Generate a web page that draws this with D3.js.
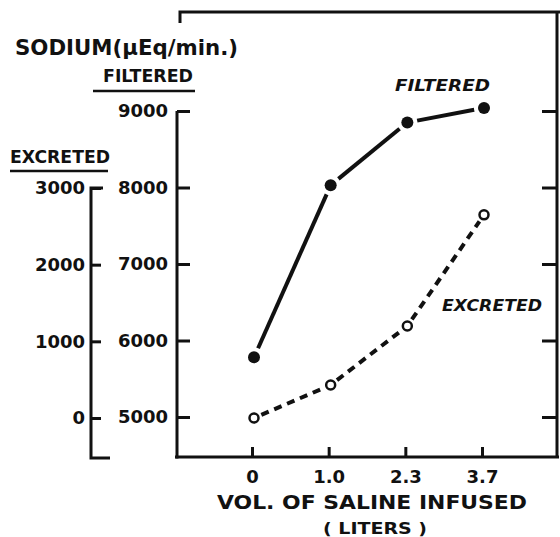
<!DOCTYPE html>
<html>
<head>
<meta charset="utf-8">
<script src="https://cdn.jsdelivr.net/npm/d3@7"></script>
<style>
  body { margin: 0; background: #fff; }
  svg { display: block; }
  text { font-family: "DejaVu Sans", sans-serif; font-weight: bold; fill: #111; }
</style>
</head>
<body>
<svg id="chart" width="560" height="537"></svg>
<script>
// data
const volumes = ["0", "1.0", "2.3", "3.7"];          // liters of saline infused
const filtered = [5780, 8030, 8850, 9040];          // filtered sodium, uEq/min
const excreted = [0, 430, 1200, 2650];              // excreted sodium, uEq/min
const filteredTicks = [5000, 6000, 7000, 8000, 9000];
const excretedTicks = [0, 1000, 2000, 3000];

const svg = d3.select("#chart");
const ink = "#111";

// layout
const plot = { left: 177, right: 557, top: 12, bottom: 457 };

const x = d3.scalePoint().domain(volumes).range([252, 482]);
const yF = d3.scaleLinear().domain([5000, 9000]).range([417, 111]);
const yE = d3.scaleLinear().domain([0, 3000]).range([418, 188]);

// helper for fixed-width lettering
function label(txt, px, py, size, width, opts = {}) {
  const t = svg.append("text").attr("x", px).attr("y", py)
      .style("font-size", size + "px").text(txt);
  if (width) t.attr("textLength", width).attr("lengthAdjust", "spacingAndGlyphs");
  if (opts.italic) t.style("font-style", "italic");
  if (opts.anchor) t.attr("text-anchor", opts.anchor);
  return t;
}

// titles
label("SODIUM(\u03BCEq/min.)", 15, 55, 22, 223);
label("FILTERED", 103, 82, 17, 90);
svg.append("line").attr("x1", 93).attr("x2", 195).attr("y1", 91).attr("y2", 91)
    .attr("stroke", ink).attr("stroke-width", 2.5);
label("EXCRETED", 10, 163, 17, 100);
svg.append("line").attr("x1", 10).attr("x2", 108).attr("y1", 171).attr("y2", 171)
    .attr("stroke", ink).attr("stroke-width", 2.5);

// frame lines
const frame = svg.append("g").attr("stroke", ink).attr("stroke-width", 3).attr("fill", "none");
frame.append("path").attr("d", `M${plot.left + 3},23 V${plot.top} H560`);
frame.append("line").attr("x1", plot.left).attr("x2", plot.left)
    .attr("y1", yF(9000)).attr("y2", plot.bottom + 1.5);
frame.append("line").attr("x1", plot.left - 2).attr("x2", plot.right + 2)
    .attr("y1", plot.bottom).attr("y2", plot.bottom);
frame.append("line").attr("x1", plot.right).attr("x2", plot.right)
    .attr("y1", plot.top).attr("y2", plot.bottom);

// filtered axis (labels left, ticks inward)
const axF = svg.append("g").attr("transform", `translate(${plot.left},0)`)
    .call(d3.axisLeft(yF).tickValues(filteredTicks).tickFormat(d3.format("d"))
        .tickSizeInner(-13).tickSizeOuter(0).tickPadding(9));
axF.select(".domain").remove();

// right-side ticks
const axR = svg.append("g").attr("transform", `translate(${plot.right},0)`)
    .call(d3.axisRight(yF).tickValues(filteredTicks).tickFormat("")
        .tickSizeInner(-15).tickSizeOuter(0));
axR.select(".domain").remove();

// excreted axis
const exX = 91;
const axE = svg.append("g").attr("transform", `translate(${exX},0)`)
    .call(d3.axisLeft(yE).tickValues(excretedTicks).tickFormat(d3.format("d"))
        .tickSizeInner(-10).tickSizeOuter(0).tickPadding(6));
axE.select(".domain").remove();
svg.append("path").attr("d", `M${exX + 12},${yE(3000)} H${exX} V${plot.bottom + 1} H${exX + 19}`)
    .attr("fill", "none").attr("stroke", ink).attr("stroke-width", 3);

// x axis
const axX = svg.append("g").attr("transform", `translate(0,${plot.bottom})`)
    .call(d3.axisBottom(x).tickSizeInner(-10).tickSizeOuter(0).tickPadding(10));
axX.select(".domain").remove();

[axF, axR, axE, axX].forEach(g => {
  g.selectAll(".tick line").attr("stroke", ink).attr("stroke-width", 3);
  g.selectAll(".tick text").attr("fill", ink)
      .style("font-family", "'DejaVu Sans', sans-serif").style("font-weight", "bold")
      .style("font-size", "18px");
});
axX.selectAll(".tick text").attr("dy", "0.9em");

label("VOL. OF SALINE INFUSED", 217, 509, 20, 310);
label("( LITERS )", 323, 534, 16, 104);

// series: segments stop short of the markers
function segments(vals, yScale, gap) {
  const pts = vals.map((v, i) => [x(volumes[i]) + 2, yScale(v)]);
  return d3.pairs(pts).map(([a, b]) => {
    const dx = b[0] - a[0], dy = b[1] - a[1], len = Math.hypot(dx, dy);
    const ux = dx / len, uy = dy / len;
    return [[a[0] + ux * gap, a[1] + uy * gap], [b[0] - ux * gap, b[1] - uy * gap]];
  });
}

const line = d3.line();

svg.append("g").selectAll("path")
    .data(segments(filtered, yF, 10))
    .join("path")
    .attr("d", line)
    .attr("stroke", ink).attr("stroke-width", 4).attr("fill", "none");

svg.append("g").selectAll("circle")
    .data(filtered)
    .join("circle")
    .attr("cx", (d, i) => x(volumes[i]) + 2)
    .attr("cy", d => yF(d))
    .attr("r", 6)
    .attr("fill", ink);

svg.append("g").selectAll("path")
    .data(segments(excreted, yE, 8))
    .join("path")
    .attr("d", line)
    .attr("stroke", ink).attr("stroke-width", 4).attr("fill", "none")
    .attr("stroke-dasharray", "8,6");

svg.append("g").selectAll("circle")
    .data(excreted)
    .join("circle")
    .attr("cx", (d, i) => x(volumes[i]) + 2)
    .attr("cy", d => yE(d))
    .attr("r", 4.5)
    .attr("fill", "#fff").attr("stroke", ink).attr("stroke-width", 2.5);

// in-plot series labels
label("FILTERED", 395, 91, 16, 95, { italic: true });
label("EXCRETED", 442, 311, 16, 100, { italic: true });
</script>
</body>
</html>
